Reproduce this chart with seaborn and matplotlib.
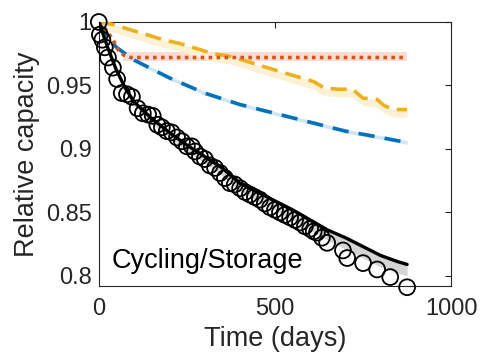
import numpy as np
import matplotlib
matplotlib.use("Agg")
import matplotlib.pyplot as plt
import seaborn as sns

# measured cycling data (circles)
cyc_t = [0, 3, 10, 17, 26, 40, 52, 65, 80, 94, 110, 125, 140, 153, 166, 179, 193, 207,
         222, 236, 250, 264, 273, 287, 301, 315, 330, 344, 358, 372, 386, 401, 415, 429,
         443, 457, 471, 486, 500, 514, 528, 543, 557, 571, 585, 600, 610, 619, 633, 648,
         693, 705, 750, 790, 827, 875]
cyc_q = [1.0, 0.990, 0.986, 0.980, 0.972, 0.964, 0.955, 0.944, 0.943, 0.941, 0.932, 0.928,
         0.927, 0.926, 0.919, 0.917, 0.914, 0.913, 0.909, 0.906, 0.902, 0.902, 0.898, 0.894,
         0.892, 0.887, 0.885, 0.881, 0.877, 0.873, 0.872, 0.869, 0.866, 0.864, 0.862, 0.860,
         0.857, 0.854, 0.852, 0.850, 0.848, 0.846, 0.844, 0.842, 0.839, 0.837, 0.835, 0.834,
         0.830, 0.826, 0.820, 0.814, 0.810, 0.805, 0.799, 0.791]

# cycling model (black line) and its band
mod_t = [0, 25, 50, 75, 100, 150, 200, 250, 300, 350, 400, 450, 500, 550, 600, 650, 700,
         750, 800, 850, 875]
mod_q = [1.0, 0.980, 0.962, 0.948, 0.937, 0.924, 0.913, 0.903, 0.894, 0.885, 0.873, 0.866,
         0.859, 0.852, 0.844, 0.836, 0.830, 0.823, 0.816, 0.811, 0.809]
mod_lo = [1.0, 0.979, 0.960, 0.946, 0.934, 0.920, 0.909, 0.898, 0.889, 0.879, 0.867, 0.859,
          0.852, 0.844, 0.836, 0.828, 0.821, 0.814, 0.807, 0.802, 0.800]

# storage model (blue dashed)
sto_t = [0, 25, 50, 100, 150, 200, 300, 400, 500, 600, 700, 800, 875]
sto_q = [1.0, 0.988, 0.980, 0.970, 0.963, 0.956, 0.944, 0.935, 0.928, 0.921, 0.914, 0.909, 0.905]

# calendar (orange dotted)
cal_t = [0, 20, 40, 55, 70, 90, 875]
cal_q = [1.0, 0.994, 0.986, 0.978, 0.974, 0.972, 0.972]
cal_band_t = [70, 875]
cal_lo = [0.969, 0.969]
cal_hi = [0.976, 0.976]

# yellow dashed
yel_t = [0, 40, 88, 136, 182, 230, 278, 324, 372, 420, 466, 514, 562, 610, 640, 680, 720,
         750, 790, 810, 840, 875]
yel_q = [1.0, 0.998, 0.994, 0.990, 0.986, 0.983, 0.979, 0.975, 0.973, 0.969, 0.965, 0.961,
         0.957, 0.953, 0.948, 0.947, 0.947, 0.940, 0.939, 0.934, 0.931, 0.931]

blue = "#0072BD"
orange = "#D95319"
yellow = "#EDB120"

sns.set_style("white")
plt.rcParams['font.family'] = ['Liberation Sans', 'DejaVu Sans']

fig = plt.figure(figsize=(4.82, 3.6), dpi=100)
ax = fig.add_axes([0.205, 0.206, 0.731, 0.733])

# bands
ax.fill_between(cal_band_t, cal_lo, cal_hi, color="#f9ddd3", lw=0, zorder=1)
ax.fill_between(yel_t, np.array(yel_q) - 0.006, yel_q, color="#fcf0d5", lw=0, zorder=1)
ax.fill_between(sto_t, np.array(sto_q) - 0.0015, np.array(sto_q) + 0.0015,
                color="#cfe6f5", lw=0, zorder=1)
ax.fill_between(mod_t, mod_lo, mod_q, color="#d4d4d4", lw=0, zorder=1)

sns.lineplot(x=sto_t, y=sto_q, ax=ax, color=blue, lw=2.6, linestyle=(0, (4.5, 2.8)), zorder=3)
sns.lineplot(x=yel_t, y=yel_q, ax=ax, color=yellow, lw=2.6, linestyle=(0, (4.5, 2.2)), zorder=3)
sns.lineplot(x=cal_t, y=cal_q, ax=ax, color=orange, lw=2.6, linestyle=(0, (1, 1.2)), zorder=3)
sns.lineplot(x=mod_t, y=mod_q, ax=ax, color="black", lw=2.4, zorder=4)
sns.scatterplot(x=cyc_t, y=cyc_q, ax=ax, marker="o", s=130, facecolor="none",
                edgecolor="black", linewidth=1.3, zorder=5, clip_on=False)

ax.set_xlim(0, 1000)
ax.set_ylim(0.7921, 1.0)
ax.set_xticks([0, 500, 1000])
ax.set_xticklabels(["0", "500", "1000"])
ax.set_yticks([0.8, 0.85, 0.9, 0.95, 1.0])
ax.set_yticklabels(["0.8", "0.85", "0.9", "0.95", "1"])
ax.tick_params(direction="in", top=True, right=True, length=4, width=0.8,
               labelsize=17, colors="#262626", pad=5)
ax.tick_params(axis="x", pad=9)
for s in ax.spines.values():
    s.set_color("#262626")
    s.set_linewidth(0.8)
ax.set_xlabel("Time (days)", fontsize=19.5, color="#262626", labelpad=4)
ax.set_ylabel("Relative capacity", fontsize=19.5, color="#262626", labelpad=4)
ax.text(37, 0.806, "Cycling/Storage", fontsize=19.5, color="black")

fig.savefig("out.png", dpi=100)
